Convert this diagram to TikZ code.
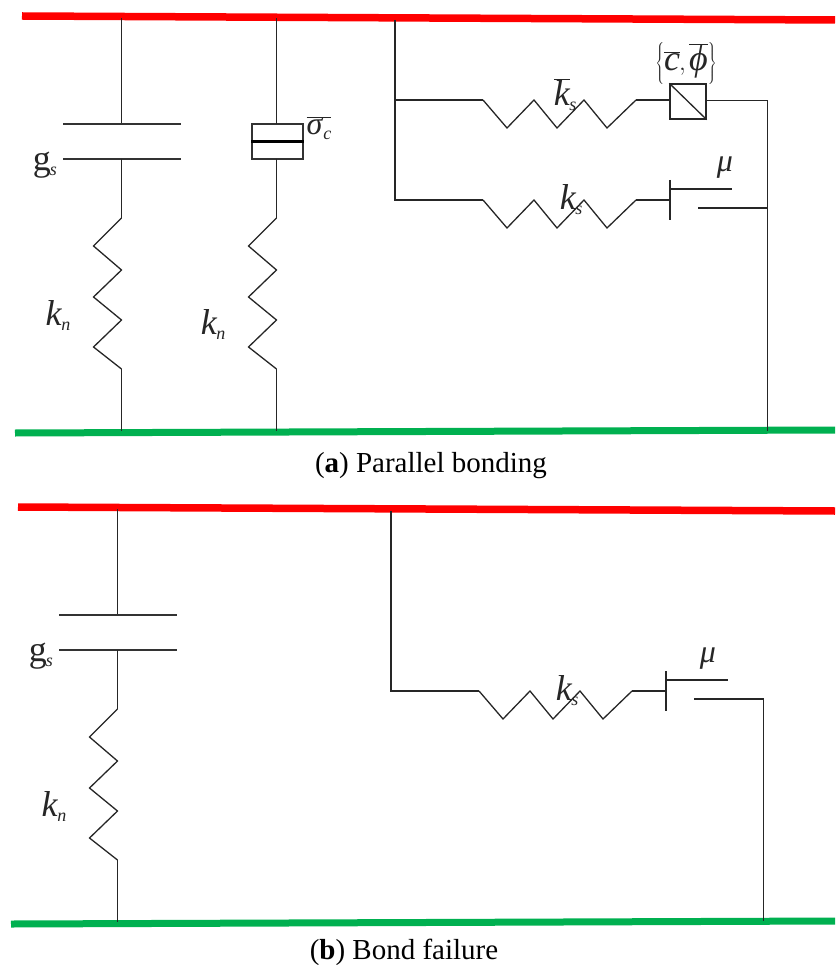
\documentclass[tikz,border=0pt]{standalone}
\usepackage{fontspec}
\setmainfont{Liberation Serif}
\newcommand{\subsz}{\fontsize{18}{18}\selectfont}
\newcommand{\symsub}[2]{\textit{#1}\kern-1pt\raisebox{-5pt}{\subsz\textit{#2}}}
\definecolor{bargreen}{RGB}{0,176,80}
\tikzset{
  wire/.style={draw=black!85,line width=1.3pt,line join=miter},
  plate/.style={draw=black!80,line width=1.4pt},
  redbar/.style={draw=red,line width=7.5pt},
  greenbar/.style={draw=bargreen,line width=7pt},
  sym/.style={inner sep=0pt,font=\fontsize{36}{36}\selectfont,text=black!85},
  capt/.style={inner sep=0pt,font=\fontsize{29}{32}\selectfont}
}
\newcommand{\vspring}[2]{% x, top y
  \draw[wire] (#1,#2) -- ++(-28,28) -- ++(28,24) -- ++(-28,27) -- ++(28,23) -- ++(-28,27) -- ++(28,22);
}
\newcommand{\hspring}[2]{% x start, y
  \draw[wire] (#1,#2) -- ++(24,28) -- ++(27,-28) -- ++(23,28) -- ++(27,-28) -- ++(23,28) -- ++(29,-28);
}
\begin{document}
\begin{tikzpicture}[x=1pt,y=-1pt]
\useasboundingbox (0,0) rectangle (835,965);
% ---------- (a) ----------
\coordinate (aRedL) at (22,16);   \coordinate (aRedR) at (835,20);
\coordinate (aGrnL) at (15,433);  \coordinate (aGrnR) at (835,430);
\draw[redbar] (aRedL) -- (aRedR);
\draw[greenbar] (aGrnL) -- (aGrnR);
% first column
\coordinate (a1top) at (121.5,18); \coordinate (a1p1) at (121.5,124);
\coordinate (a1p2) at (121.5,159); \coordinate (a1s) at (121.5,218);
\coordinate (a1e) at (121.5,369);  \coordinate (a1bot) at (121.5,431);
\draw[wire] (a1top) -- (a1p1);
\draw[plate] (63,124) -- (181,124);
\draw[plate] (63,159) -- (181,159);
\draw[wire] (a1p2) -- (a1s);
\vspring{121.5}{218}
\draw[wire] (a1e) -- (a1bot);
\node[sym] (ags) at (45,165) {g\kern-1pt\raisebox{-5pt}{\subsz\textit{s}}};
\node[sym] (akn1) at (58,316) {\symsub{k}{n}};
% second column
\coordinate (a2top) at (276.5,18); \coordinate (a2bot) at (276.5,431);
\node[draw=black!80,line width=1.4pt,minimum width=51pt,minimum height=35pt,inner sep=0pt] (abox) at (277.5,141.5) {};
\draw[line width=3.6pt] (abox.west) -- (abox.east);
\draw[wire] (a2top) -- (276.5,124);
\draw[wire] (276.5,159) -- (276.5,218);
\vspring{276.5}{218}
\draw[wire] (276.5,369) -- (a2bot);
\node[sym,font=\fontsize{32}{32}\selectfont] (asig) at (319,128) {$\overline{\hbox{\raisebox{-3pt}{\textit{σ}\raisebox{-5pt}{\subsz\textit{c}}}}}$};
\node[sym] (akn2) at (213,325) {\symsub{k}{n}};
% third column
\coordinate (a3top) at (395,20); \coordinate (a3m) at (395,100); \coordinate (a3b) at (395,200);
\draw[wire] (a3top) -- (a3b) -- (483,200);
\draw[wire] (a3m) -- (483,100);
\hspring{483}{100}
\hspring{483}{200}
\node[draw=black!85,line width=1.3pt,minimum width=36pt,minimum height=35pt,inner sep=0pt] (aslip) at (688,101.5) {};
\draw[wire] (aslip.north west) -- (aslip.south east);
\draw[wire] (636,100) -- (670,100);
\draw[wire] (706,100.5) -- (767.5,100.5) -- (767.5,431);
\draw[wire] (636,200) -- (670,200);
\draw[wire] (670,180) -- (670,220);
\draw[wire] (670,189) -- (732,189);
\draw[wire] (698,208) -- (767.5,208);
\node[sym] (aks1) at (565,95) {$\overline{\hbox{\textit{k}}}$\kern-1pt\raisebox{-5pt}{\subsz\textit{s}}};
\node[sym] (aks2) at (571,200) {\symsub{k}{s}};
\node[sym,font=\fontsize{32}{32}\selectfont] (amu) at (725,168) {\textit{μ}};
\node[sym,font=\fontsize{36}{36}\selectfont] (acphi) at (686,64) {$\left\{\overline{\hbox{\textit{c}}}\kern-1pt,\kern-1pt\overline{\hbox{\textit{ϕ}}}\vphantom{\Big|}\right\}$};
\node[capt] (capa) at (431,466) {(\textbf{a}) Parallel bonding};
% ---------- (b) ----------
\coordinate (bRedL) at (18,507);  \coordinate (bRedR) at (835,511);
\coordinate (bGrnL) at (11,924);  \coordinate (bGrnR) at (835,921);
\draw[redbar] (bRedL) -- (bRedR);
\draw[greenbar] (bGrnL) -- (bGrnR);
\draw[wire] (117.5,509) -- (117.5,615);
\draw[plate] (59,615) -- (177,615);
\draw[plate] (59,650) -- (177,650);
\draw[wire] (117.5,650) -- (117.5,709);
\vspring{117.5}{709}
\draw[wire] (117.5,860) -- (117.5,922);
\node[sym] (bgs) at (41,656) {g\kern-1pt\raisebox{-5pt}{\subsz\textit{s}}};
\node[sym] (bkn) at (54,807) {\symsub{k}{n}};
\coordinate (b3top) at (391,511); \coordinate (b3b) at (391,691);
\draw[wire] (b3top) -- (b3b) -- (479,691);
\hspring{479}{691}
\draw[wire] (632,691) -- (666,691);
\draw[wire] (666,671) -- (666,711);
\draw[wire] (666,680) -- (728,680);
\draw[wire] (694,699) -- (763.5,699) -- (763.5,921);
\node[sym] (bks) at (567,691) {\symsub{k}{s}};
\node[sym,font=\fontsize{32}{32}\selectfont] (bmu) at (708,659) {\textit{μ}};
\node[capt] (capb) at (404,952) {(\textbf{b}) Bond failure};
\end{tikzpicture}
\end{document}
